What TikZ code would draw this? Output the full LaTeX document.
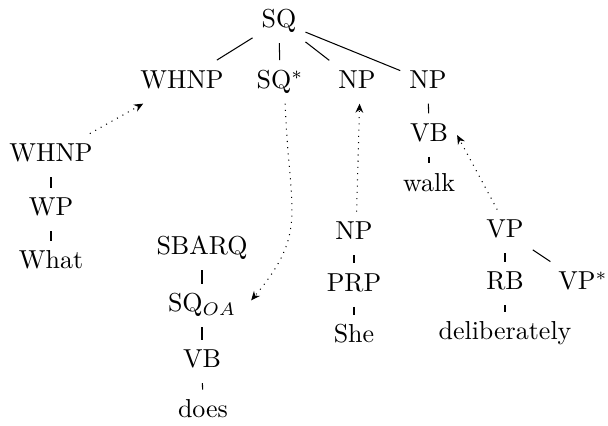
\documentclass[tikz,border=0pt]{standalone}
\usetikzlibrary{arrows.meta}
\begin{document}
\begin{tikzpicture}[x=0.385pt,y=0.385pt,
  tn/.style={anchor=base, text height=7.4pt, text depth=2.3pt, inner sep=3.33pt},
  mv/.style={dotted, -{Stealth[length=3.5pt,width=3pt]}}]
\useasboundingbox (0,0) rectangle (608,-426);
% main tree
\node[tn] (sq)    at (279,-28)   {SQ};
\node[tn] (whnpT) at (182,-88.5) {WHNP};
\node[tn] (sqs)   at (280,-88.5) {SQ$^*$};
\node[tn] (np1)   at (357,-88.5) {NP};
\node[tn] (np2)   at (428,-88.5) {NP};
\node[tn] (vbw)   at (429,-141.7) {VB};
\node[tn] (walk)  at (429,-191.7) {walk};
% WHNP fragment
\node[tn] (whnpL) at (51,-162) {WHNP};
\node[tn] (wp)    at (51,-216) {WP};
\node[tn] (what)  at (51,-269) {What};
% SBARQ fragment
\node[tn] (sbarq) at (202,-255) {SBARQ};
\node[tn] (sqoa)  at (202,-312) {SQ$_{OA}$};
\node[tn] (vbd)   at (202,-368) {VB};
\node[tn] (does)  at (203,-418) {does};
% NP fragment
\node[tn] (npS)   at (354,-240) {NP};
\node[tn] (prp)   at (354,-291.7) {PRP};
\node[tn] (she)   at (354,-343) {She};
% VP fragment
\node[tn] (vp)    at (505,-238) {VP};
\node[tn] (rb)    at (505,-290) {RB};
\node[tn] (vps)   at (583,-290) {VP$^*$};
\node[tn] (delib) at (505,-340) {deliberately};
% edges
\draw (sq) -- (whnpT);
\draw (sq) -- (sqs);
\draw (sq) -- (np1);
\draw (sq) -- (np2);
\draw (np2) -- (vbw);
\draw (vbw) -- (walk);
\draw (whnpL) -- (wp);
\draw (wp) -- (what);
\draw (sbarq) -- (sqoa);
\draw (sqoa) -- (vbd);
\draw (vbd) -- (does);
\draw (npS) -- (prp);
\draw (prp) -- (she);
\draw (vp) -- (rb);
\draw (vp) -- (vps);
\draw (rb) -- (delib);
% movement arrows
\draw[mv] (whnpL) -- (whnpT);
\draw[mv] ([xshift=1pt]npS.north) -- ([xshift=1pt]np1.south);
\draw[mv] ([xshift=-3pt]vp.north) -- (vbw.east);
\draw[mv] ([xshift=2pt]sqs.south) .. controls +(-88:110) and +(50:90) .. ([shift={(6,5)}]sqoa.east);
\end{tikzpicture}
\end{document}
